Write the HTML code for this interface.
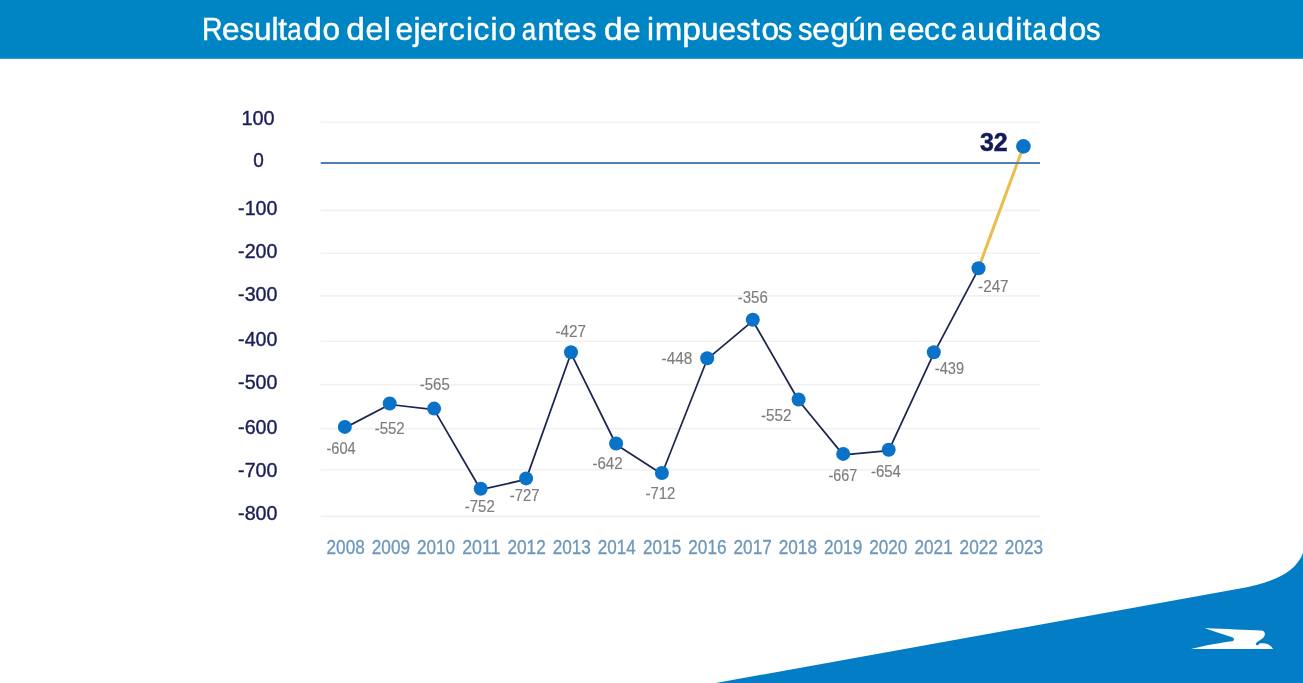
<!DOCTYPE html>
<html lang="es"><head><meta charset="utf-8"><title>Resultado del ejercicio antes de impuestos según eecc auditados</title>
<style>html,body{margin:0;padding:0;background:#fff;overflow:hidden}svg{display:block}text{font-family:"Liberation Sans",Arial,sans-serif}</style></head>
<body>
<svg width="1303" height="683" viewBox="0 0 1303 683">
<rect width="1303" height="683" fill="#fff"/>
<rect width="1303" height="58.8" fill="#0085c4"/>
<path d="M715.6 683 L1240 588.6 C1269 583.2 1301 573.5 1305 545 L1305 683 Z" fill="#037dc5"/>
<path d="M1204.83 627.99 C1224.66 629.19 1246.80 629.65 1260.64 630.57 C1264.79 630.85 1265.71 633.52 1264.33 636.29 C1262.30 639.98 1256.30 641.37 1255.75 643.95 C1256.49 645.98 1258.52 645.52 1259.44 643.49 C1265.71 642.47 1270.97 644.87 1273.00 649.02 L1190.99 649.02 C1205.29 645.61 1220.97 642.84 1232.04 641.37 C1234.62 640.44 1234.62 638.60 1232.23 637.21 C1222.82 634.17 1213.59 631.40 1204.83 627.99 Z" fill="#fff"/>
<text x="1278.4 1404.6 1515.2 1608.4 1718.8 1760.4 1818.8 1918.8 2041.0 2141.3 2191.0 2312.9 2428.9 2491.2 2502.7 2617.1 2658.1 2768.0 2841.4 2949.2 2996.7 3104.6 3155.9 3254.8 3303.0 3401.2 3508.5 3566.7 3684.2 3779.2 3823.6 3943.2 4044.8 4095.7 4144.5 4318.6 4436.3 4548.0 4659.8 4754.7 4820.1 4922.5 5012.2 5051.3 5140.7 5254.3 5368.7 5483.1 5580.3 5626.8 5740.7 5848.6 5954.0 6044.7 6084.7 6185.6 6301.4 6425.5 6472.4 6534.3 6639.1 6763.5 6873.1" font-size="200" fill="#fff" stroke="#fff" stroke-width="2.89" stroke-linejoin="round" transform="matrix(0.15800 0 0 0.15300 0 39.7)"><tspan x="1278.4" textLength="130.0" lengthAdjust="spacingAndGlyphs">R</tspan>e<tspan x="1515.2" textLength="92.0" lengthAdjust="spacingAndGlyphs">s</tspan>ult<tspan x="1818.8" textLength="91.2" lengthAdjust="spacingAndGlyphs">a</tspan><tspan x="1918.8" textLength="117.9" lengthAdjust="spacingAndGlyphs">d</tspan>o <tspan x="2191.0" textLength="117.9" lengthAdjust="spacingAndGlyphs">d</tspan>el ejercicio <tspan x="3303.0" textLength="91.2" lengthAdjust="spacingAndGlyphs">a</tspan><tspan x="3401.2" textLength="106.8" lengthAdjust="spacingAndGlyphs">n</tspan>te<tspan x="3684.2" textLength="92.0" lengthAdjust="spacingAndGlyphs">s</tspan> <tspan x="3823.6" textLength="117.9" lengthAdjust="spacingAndGlyphs">d</tspan>e i<tspan x="4144.5" textLength="174.9" lengthAdjust="spacingAndGlyphs">m</tspan><tspan x="4318.6" textLength="117.9" lengthAdjust="spacingAndGlyphs">p</tspan>ue<tspan x="4659.8" textLength="92.0" lengthAdjust="spacingAndGlyphs">s</tspan>to<tspan x="4922.5" textLength="92.0" lengthAdjust="spacingAndGlyphs">s</tspan> <tspan x="5051.3" textLength="92.0" lengthAdjust="spacingAndGlyphs">s</tspan>e<tspan x="5254.3" textLength="117.9" lengthAdjust="spacingAndGlyphs">g</tspan>ú<tspan x="5483.1" textLength="106.8" lengthAdjust="spacingAndGlyphs">n</tspan> eecc <tspan x="6084.7" textLength="91.2" lengthAdjust="spacingAndGlyphs">a</tspan>u<tspan x="6301.4" textLength="117.9" lengthAdjust="spacingAndGlyphs">d</tspan>it<tspan x="6534.3" textLength="91.2" lengthAdjust="spacingAndGlyphs">a</tspan><tspan x="6639.1" textLength="117.9" lengthAdjust="spacingAndGlyphs">d</tspan>o<tspan x="6873.1" textLength="92.0" lengthAdjust="spacingAndGlyphs">s</tspan></text>
<line x1="320.7" x2="1040" y1="122.2" y2="122.2" stroke="#f1f1f1" stroke-width="1.6"/>
<line x1="320.7" x2="1040" y1="210.4" y2="210.4" stroke="#f1f1f1" stroke-width="1.6"/>
<line x1="320.7" x2="1040" y1="253.2" y2="253.2" stroke="#f1f1f1" stroke-width="1.6"/>
<line x1="320.7" x2="1040" y1="295.9" y2="295.9" stroke="#f1f1f1" stroke-width="1.6"/>
<line x1="320.7" x2="1040" y1="341.3" y2="341.3" stroke="#f1f1f1" stroke-width="1.6"/>
<line x1="320.7" x2="1040" y1="384.6" y2="384.6" stroke="#f1f1f1" stroke-width="1.6"/>
<line x1="320.7" x2="1040" y1="428.7" y2="428.7" stroke="#f1f1f1" stroke-width="1.6"/>
<line x1="320.7" x2="1040" y1="469.8" y2="469.8" stroke="#f1f1f1" stroke-width="1.6"/>
<line x1="320.7" x2="1040" y1="516.4" y2="516.4" stroke="#f1f1f1" stroke-width="1.6"/>
<path d="M344.8 427.9 L389.7 404.5 L434.1 409.6 L480.7 489.7 L526.1 479.4 L571.0 353.3 L616.1 444.5 L661.9 474.0 L707.2 359.2 L752.8 320.8 L798.6 400.5 L843.2 454.9 L888.7 450.7 L933.8 353.3 L978.5 269.2" fill="none" stroke="#1d2552" stroke-width="1.75" stroke-linejoin="round"/>
<line x1="978.5" y1="268.2" x2="1023.4" y2="146.4" stroke="#ebbd4a" stroke-width="3"/>
<line x1="320.7" x2="1040" y1="163.0" y2="163.0" stroke="#4f80b4" stroke-width="1.8"/>
<circle cx="344.8" cy="426.9" r="7" fill="#0a73c8"/>
<circle cx="389.7" cy="403.5" r="7" fill="#0a73c8"/>
<circle cx="434.1" cy="408.6" r="7" fill="#0a73c8"/>
<circle cx="480.7" cy="488.7" r="7" fill="#0a73c8"/>
<circle cx="526.1" cy="478.4" r="7" fill="#0a73c8"/>
<circle cx="571.0" cy="352.3" r="7" fill="#0a73c8"/>
<circle cx="616.1" cy="443.5" r="7" fill="#0a73c8"/>
<circle cx="661.9" cy="473.0" r="7" fill="#0a73c8"/>
<circle cx="707.2" cy="358.2" r="7" fill="#0a73c8"/>
<circle cx="752.8" cy="319.8" r="7" fill="#0a73c8"/>
<circle cx="798.6" cy="399.5" r="7" fill="#0a73c8"/>
<circle cx="843.2" cy="453.9" r="7" fill="#0a73c8"/>
<circle cx="888.7" cy="449.7" r="7" fill="#0a73c8"/>
<circle cx="933.8" cy="352.3" r="7" fill="#0a73c8"/>
<circle cx="978.5" cy="268.2" r="7" fill="#0a73c8"/>
<circle cx="1023.4" cy="146.4" r="7.3" fill="#0a73c8"/>
<text font-size="200" fill="#1a1f5a" stroke="#1a1f5a" stroke-width="0.38" vector-effect="non-scaling-stroke" transform="matrix(0.09942 0 0 0.10296 241.50 125.40)">100</text>
<text font-size="200" fill="#1a1f5a" stroke="#1a1f5a" stroke-width="0.38" vector-effect="non-scaling-stroke" transform="matrix(0.09495 0 0 0.10296 253.23 167.40)">0</text>
<text font-size="200" fill="#1a1f5a" stroke="#1a1f5a" stroke-width="0.38" vector-effect="non-scaling-stroke" transform="matrix(0.09849 0 0 0.10296 238.10 215.10)">-100</text>
<text font-size="200" fill="#1a1f5a" stroke="#1a1f5a" stroke-width="0.38" vector-effect="non-scaling-stroke" transform="matrix(0.09849 0 0 0.10296 238.10 257.60)">-200</text>
<text font-size="200" fill="#1a1f5a" stroke="#1a1f5a" stroke-width="0.38" vector-effect="non-scaling-stroke" transform="matrix(0.09849 0 0 0.10296 238.10 301.30)">-300</text>
<text font-size="200" fill="#1a1f5a" stroke="#1a1f5a" stroke-width="0.38" vector-effect="non-scaling-stroke" transform="matrix(0.09849 0 0 0.10296 238.10 345.60)">-400</text>
<text font-size="200" fill="#1a1f5a" stroke="#1a1f5a" stroke-width="0.38" vector-effect="non-scaling-stroke" transform="matrix(0.09849 0 0 0.10296 238.10 389.40)">-500</text>
<text font-size="200" fill="#1a1f5a" stroke="#1a1f5a" stroke-width="0.38" vector-effect="non-scaling-stroke" transform="matrix(0.09849 0 0 0.10296 238.10 434.10)">-600</text>
<text font-size="200" fill="#1a1f5a" stroke="#1a1f5a" stroke-width="0.38" vector-effect="non-scaling-stroke" transform="matrix(0.09849 0 0 0.10296 238.10 477.20)">-700</text>
<text font-size="200" fill="#1a1f5a" stroke="#1a1f5a" stroke-width="0.38" vector-effect="non-scaling-stroke" transform="matrix(0.09849 0 0 0.10296 238.10 520.40)">-800</text>
<text font-size="200" fill="#7d7d7d" stroke="#7d7d7d" stroke-width="0.15" vector-effect="non-scaling-stroke" transform="matrix(0.07312 0 0 0.08063 326.42 453.76)">-604</text>
<text font-size="200" fill="#7d7d7d" stroke="#7d7d7d" stroke-width="0.15" vector-effect="non-scaling-stroke" transform="matrix(0.07493 0 0 0.08063 374.70 433.86)">-552</text>
<text font-size="200" fill="#7d7d7d" stroke="#7d7d7d" stroke-width="0.15" vector-effect="non-scaling-stroke" transform="matrix(0.07480 0 0 0.08063 419.80 390.01)">-565</text>
<text font-size="200" fill="#7d7d7d" stroke="#7d7d7d" stroke-width="0.15" vector-effect="non-scaling-stroke" transform="matrix(0.07520 0 0 0.08063 464.70 512.41)">-752</text>
<text font-size="200" fill="#7d7d7d" stroke="#7d7d7d" stroke-width="0.15" vector-effect="non-scaling-stroke" transform="matrix(0.07415 0 0 0.08063 509.81 500.76)">-727</text>
<text font-size="200" fill="#7d7d7d" stroke="#7d7d7d" stroke-width="0.15" vector-effect="non-scaling-stroke" transform="matrix(0.07625 0 0 0.08063 555.49 336.61)">-427</text>
<text font-size="200" fill="#7d7d7d" stroke="#7d7d7d" stroke-width="0.15" vector-effect="non-scaling-stroke" transform="matrix(0.07546 0 0 0.08063 592.40 468.81)">-642</text>
<text font-size="200" fill="#7d7d7d" stroke="#7d7d7d" stroke-width="0.15" vector-effect="non-scaling-stroke" transform="matrix(0.07467 0 0 0.08063 645.50 499.06)">-712</text>
<text font-size="200" fill="#7d7d7d" stroke="#7d7d7d" stroke-width="0.15" vector-effect="non-scaling-stroke" transform="matrix(0.07715 0 0 0.08063 661.58 364.26)">-448</text>
<text font-size="200" fill="#7d7d7d" stroke="#7d7d7d" stroke-width="0.15" vector-effect="non-scaling-stroke" transform="matrix(0.07526 0 0 0.08063 737.70 303.36)">-356</text>
<text font-size="200" fill="#7d7d7d" stroke="#7d7d7d" stroke-width="0.15" vector-effect="non-scaling-stroke" transform="matrix(0.07625 0 0 0.08063 760.89 420.96)">-552</text>
<text font-size="200" fill="#7d7d7d" stroke="#7d7d7d" stroke-width="0.15" vector-effect="non-scaling-stroke" transform="matrix(0.07178 0 0 0.08063 828.43 480.81)">-667</text>
<text font-size="200" fill="#7d7d7d" stroke="#7d7d7d" stroke-width="0.15" vector-effect="non-scaling-stroke" transform="matrix(0.07519 0 0 0.08063 870.90 476.56)">-654</text>
<text font-size="200" fill="#7d7d7d" stroke="#7d7d7d" stroke-width="0.15" vector-effect="non-scaling-stroke" transform="matrix(0.07317 0 0 0.08063 934.82 373.86)">-439</text>
<text font-size="200" fill="#7d7d7d" stroke="#7d7d7d" stroke-width="0.15" vector-effect="non-scaling-stroke" transform="matrix(0.07625 0 0 0.08063 978.09 291.96)">-247</text>
<text font-size="200" fill="#6d97bb" stroke="#6d97bb" stroke-width="0.3" vector-effect="non-scaling-stroke" transform="matrix(0.08592 0 0 0.09718 326.54 553.86)">2008</text>
<text font-size="200" fill="#6d97bb" stroke="#6d97bb" stroke-width="0.3" vector-effect="non-scaling-stroke" transform="matrix(0.08612 0 0 0.09718 371.76 553.86)">2009</text>
<text font-size="200" fill="#6d97bb" stroke="#6d97bb" stroke-width="0.3" vector-effect="non-scaling-stroke" transform="matrix(0.08571 0 0 0.09718 416.98 553.86)">2010</text>
<text font-size="200" fill="#6d97bb" stroke="#6d97bb" stroke-width="0.3" vector-effect="non-scaling-stroke" transform="matrix(0.08927 0 0 0.09718 462.17 553.86)">2011</text>
<text font-size="200" fill="#6d97bb" stroke="#6d97bb" stroke-width="0.3" vector-effect="non-scaling-stroke" transform="matrix(0.08612 0 0 0.09718 507.42 553.86)">2012</text>
<text font-size="200" fill="#6d97bb" stroke="#6d97bb" stroke-width="0.3" vector-effect="non-scaling-stroke" transform="matrix(0.08592 0 0 0.09718 552.64 553.86)">2013</text>
<text font-size="200" fill="#6d97bb" stroke="#6d97bb" stroke-width="0.3" vector-effect="non-scaling-stroke" transform="matrix(0.08531 0 0 0.09718 597.87 553.86)">2014</text>
<text font-size="200" fill="#6d97bb" stroke="#6d97bb" stroke-width="0.3" vector-effect="non-scaling-stroke" transform="matrix(0.08571 0 0 0.09718 643.08 553.86)">2015</text>
<text font-size="200" fill="#6d97bb" stroke="#6d97bb" stroke-width="0.3" vector-effect="non-scaling-stroke" transform="matrix(0.08592 0 0 0.09718 688.30 553.86)">2016</text>
<text font-size="200" fill="#6d97bb" stroke="#6d97bb" stroke-width="0.3" vector-effect="non-scaling-stroke" transform="matrix(0.08612 0 0 0.09718 733.52 553.86)">2017</text>
<text font-size="200" fill="#6d97bb" stroke="#6d97bb" stroke-width="0.3" vector-effect="non-scaling-stroke" transform="matrix(0.08592 0 0 0.09718 778.74 553.86)">2018</text>
<text font-size="200" fill="#6d97bb" stroke="#6d97bb" stroke-width="0.3" vector-effect="non-scaling-stroke" transform="matrix(0.08612 0 0 0.09718 823.96 553.86)">2019</text>
<text font-size="200" fill="#6d97bb" stroke="#6d97bb" stroke-width="0.3" vector-effect="non-scaling-stroke" transform="matrix(0.08571 0 0 0.09718 869.18 553.86)">2020</text>
<text font-size="200" fill="#6d97bb" stroke="#6d97bb" stroke-width="0.3" vector-effect="non-scaling-stroke" transform="matrix(0.08612 0 0 0.09718 914.40 553.86)">2021</text>
<text font-size="200" fill="#6d97bb" stroke="#6d97bb" stroke-width="0.3" vector-effect="non-scaling-stroke" transform="matrix(0.08612 0 0 0.09718 959.62 553.86)">2022</text>
<text font-size="200" fill="#6d97bb" stroke="#6d97bb" stroke-width="0.3" vector-effect="non-scaling-stroke" transform="matrix(0.08592 0 0 0.09718 1004.84 553.86)">2023</text>
<text font-size="200" fill="#141a5a" stroke="#141a5a" stroke-width="0.5" vector-effect="non-scaling-stroke" font-weight="bold" transform="matrix(0.12488 0 0 0.12535 979.93 150.50)">32</text>
</svg>
</body></html>
